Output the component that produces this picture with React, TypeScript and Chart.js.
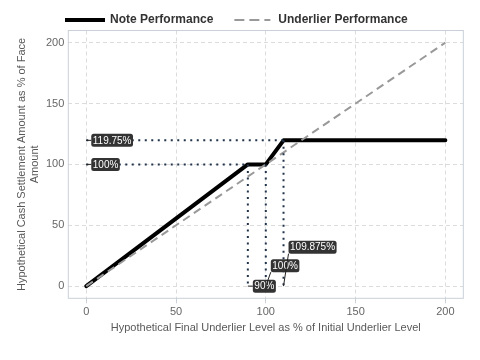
import { useEffect, useRef } from 'react';
import { Chart, registerables } from 'chart.js';

Chart.register(...registerables);

// Payoff profile of the note versus the underlier, in % of initial level / face amount
const underlierLevels = [0, 90, 100, 109.875, 200];
const notePayoff = [0, 100, 100, 119.75, 119.75];
const underlierPath = [0, 200];
const axisTicks = [0, 50, 100, 150, 200];

// Horizontal reference levels on the payoff axis and where they meet the note line
const payoffLevels = [119.75, 100];
const payoffLevelEnds = [109.875, 90];
const payoffLabels = ['119.75%', '100%'];

// Vertical reference levels on the underlier axis and the payoff reached there
const strikeLevels = [90, 100, 109.875];
const strikeTops = [100, 100, 119.75];
const strikeLabels = ['90%', '100%', '109.875%'];

const seriesNames = ['Note Performance', 'Underlier Performance'];

const FONT = '"Liberation Sans", Arial, Helvetica, sans-serif';
const NOTE_COLOR = '#000000';
const UNDERLIER_COLOR = '#999999';
const GUIDE_COLOR = '#22344a';
const FRAME_COLOR = '#c9d0d8';
const GRID_COLOR = '#dcdcdc';

function drawTag(
  ctx: CanvasRenderingContext2D,
  text: string,
  px: number,
  py: number,
  dy: number
) {
  ctx.save();
  ctx.font = `10px ${FONT}`;
  const tw = ctx.measureText(text).width;
  const w = tw + 3;
  const h = 13;
  const left = px + 5;
  const cy = py + dy;
  const top = cy - h / 2;
  // connector from the reference point to the nearest edge of the tag
  const nx = Math.min(Math.max(px, left), left + w);
  const ny = Math.min(Math.max(py, top), top + h);
  ctx.strokeStyle = '#222222';
  ctx.lineWidth = 1;
  ctx.setLineDash([]);
  ctx.beginPath();
  ctx.moveTo(px, py);
  ctx.lineTo(nx, ny);
  ctx.stroke();
  // tag body
  const r = 2.5;
  ctx.fillStyle = '#333333';
  ctx.beginPath();
  ctx.moveTo(left + r, top);
  ctx.lineTo(left + w - r, top);
  ctx.quadraticCurveTo(left + w, top, left + w, top + r);
  ctx.lineTo(left + w, top + h - r);
  ctx.quadraticCurveTo(left + w, top + h, left + w - r, top + h);
  ctx.lineTo(left + r, top + h);
  ctx.quadraticCurveTo(left, top + h, left, top + h - r);
  ctx.lineTo(left, top + r);
  ctx.quadraticCurveTo(left, top, left + r, top);
  ctx.closePath();
  ctx.fill();
  ctx.fillStyle = '#ffffff';
  ctx.textBaseline = 'middle';
  ctx.textAlign = 'left';
  ctx.fillText(text, left + 1.5, cy + 0.5);
  ctx.restore();
}

const framePlugin = {
  id: 'plotFrame',
  beforeDatasetsDraw(chart: any) {
    const { ctx, chartArea } = chart;
    ctx.save();
    ctx.strokeStyle = FRAME_COLOR;
    ctx.lineWidth = 1;
    ctx.setLineDash([]);
    ctx.strokeRect(chartArea.left, chartArea.top, chartArea.right - chartArea.left, chartArea.bottom - chartArea.top);
    ctx.restore();
  },
};

const guidesPlugin = {
  id: 'payoffGuides',
  afterDatasetsDraw(chart: any) {
    const { ctx } = chart;
    const xs = chart.scales.x;
    const ys = chart.scales.y;
    ctx.save();
    ctx.strokeStyle = GUIDE_COLOR;
    ctx.lineWidth = 2;
    ctx.setLineDash([2, 4.5]);
    payoffLevels.forEach((lvl, i) => {
      const y = ys.getPixelForValue(lvl);
      ctx.beginPath();
      ctx.moveTo(xs.getPixelForValue(0), y);
      ctx.lineTo(xs.getPixelForValue(payoffLevelEnds[i]), y);
      ctx.stroke();
    });
    strikeLevels.forEach((lvl, i) => {
      const x = xs.getPixelForValue(lvl);
      ctx.beginPath();
      ctx.moveTo(x, ys.getPixelForValue(strikeTops[i]));
      ctx.lineTo(x, ys.getPixelForValue(0));
      ctx.stroke();
    });
    ctx.restore();

    payoffLevels.forEach((lvl, i) => {
      drawTag(ctx, payoffLabels[i], xs.getPixelForValue(0), ys.getPixelForValue(lvl), 0);
    });
    const lifts = [0, -20.5, -39];
    strikeLevels.forEach((lvl, i) => {
      drawTag(ctx, strikeLabels[i], xs.getPixelForValue(lvl), ys.getPixelForValue(0), lifts[i]);
    });
  },
};

const legendPlugin = {
  id: 'lineLegend',
  afterDraw(chart: any) {
    const { ctx } = chart;
    ctx.save();
    ctx.font = `bold 12px ${FONT}`;
    ctx.textBaseline = 'middle';
    ctx.textAlign = 'left';
    const y = 20;
    let x = 65;
    // note sample
    ctx.strokeStyle = NOTE_COLOR;
    ctx.lineWidth = 4;
    ctx.setLineDash([]);
    ctx.beginPath();
    ctx.moveTo(x, y);
    ctx.lineTo(x + 40, y);
    ctx.stroke();
    x += 45;
    ctx.fillStyle = '#333333';
    ctx.fillText(seriesNames[0], x, y);
    x += ctx.measureText(seriesNames[0]).width + 21;
    // underlier sample
    ctx.strokeStyle = UNDERLIER_COLOR;
    ctx.lineWidth = 2;
    ctx.setLineDash([10, 5]);
    ctx.beginPath();
    ctx.moveTo(x, y);
    ctx.lineTo(x + 36, y);
    ctx.stroke();
    x += 44;
    ctx.fillText(seriesNames[1], x, y);
    ctx.restore();
  },
};

export default function App() {
  const canvasRef = useRef<HTMLCanvasElement | null>(null);

  useEffect(() => {
    if (!canvasRef.current) return;
    Chart.defaults.font.family = FONT;

    const chart = new Chart(canvasRef.current, {
      type: 'line',
      data: {
        datasets: [
          {
            label: seriesNames[1],
            data: underlierPath.map((v) => ({ x: v, y: v })),
            borderColor: UNDERLIER_COLOR,
            borderWidth: 2,
            borderDash: [8, 5],
            pointRadius: 0,
            fill: false,
          },
          {
            label: seriesNames[0],
            data: underlierLevels.map((v, i) => ({ x: v, y: notePayoff[i] })),
            borderColor: NOTE_COLOR,
            borderWidth: 4,
            borderCapStyle: 'round',
            borderJoinStyle: 'round',
            pointRadius: 0,
            fill: false,
          },
        ],
      },
      options: {
        responsive: false,
        animation: false,
        devicePixelRatio: 1,
        parsing: false as any,
        layout: { padding: { top: 30.5, right: 16.7, bottom: 0, left: 0 } },
        plugins: {
          legend: { display: false },
          tooltip: { enabled: false },
        },
        scales: {
          x: {
            type: 'linear',
            min: -10,
            max: 210,
            afterBuildTicks: (scale: any) => {
              scale.ticks = axisTicks.map((v) => ({ value: v }));
            },
            afterFit: (scale: any) => {
              scale.height = 61.7;
            },
            border: { display: false, dash: [4, 3] },
            grid: {
              color: GRID_COLOR,
              drawTicks: true,
              tickLength: 5,
              tickColor: FRAME_COLOR,
              tickBorderDash: [],
            } as any,
            ticks: {
              color: '#666666',
              font: { size: 11 },
              padding: 2,
              maxRotation: 0,
            },
            title: {
              display: true,
              text: 'Hypothetical Final Underlier Level as % of Initial Underlier Level',
              color: '#595959',
              font: { size: 11 },
              padding: { top: 0, bottom: 25.7 },
            },
          },
          y: {
            type: 'linear',
            min: -10,
            max: 210,
            afterBuildTicks: (scale: any) => {
              scale.ticks = axisTicks.map((v) => ({ value: v }));
            },
            afterFit: (scale: any) => {
              scale.width = 68.3;
            },
            border: { display: false, dash: [4, 3] },
            grid: {
              color: GRID_COLOR,
              drawTicks: false,
            } as any,
            ticks: {
              color: '#666666',
              font: { size: 11 },
              padding: 4,
            },
            title: {
              display: true,
              text: ['Hypothetical Cash Settlement Amount as % of Face', 'Amount'],
              color: '#595959',
              font: { size: 11 },
              padding: { top: 15.5, bottom: 0 },
            },
          },
        },
      },
      plugins: [framePlugin, guidesPlugin, legendPlugin],
    } as any);

    return () => chart.destroy();
  }, []);

  return (
    <div style={{ position: 'absolute', left: 0, top: 0, width: 480, height: 360, background: '#ffffff' }}>
      <canvas ref={canvasRef} width={480} height={360} />
    </div>
  );
}
